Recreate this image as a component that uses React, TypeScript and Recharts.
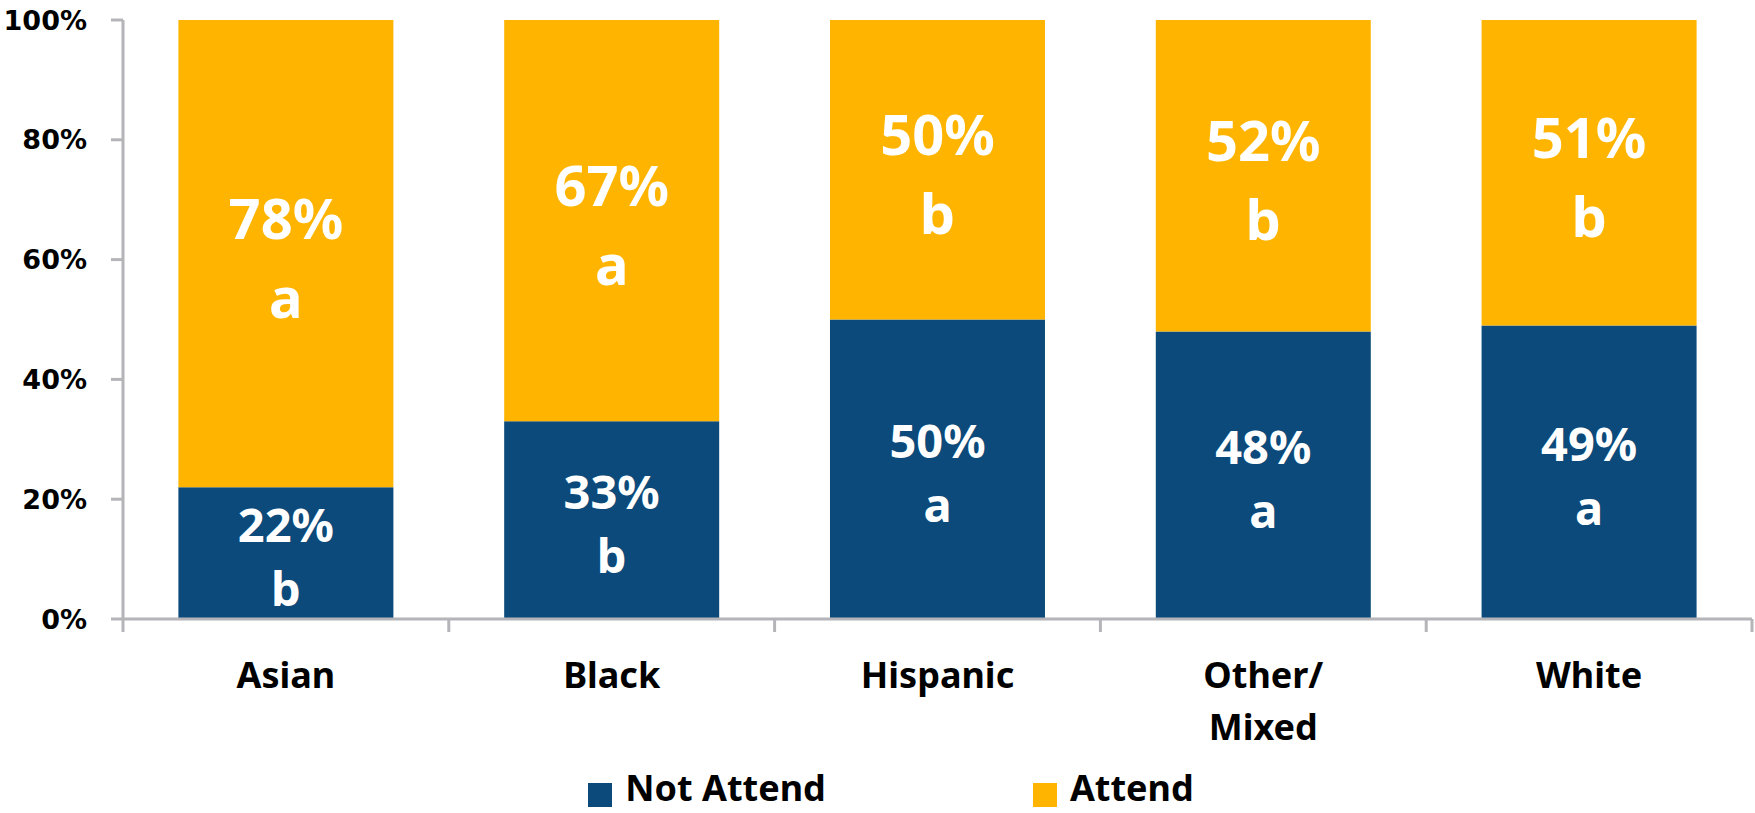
import { BarChart, Bar, XAxis, YAxis, Legend, LabelList } from "recharts";

const categories = ["Asian", "Black", "Hispanic", "Other/Mixed", "White"];
const notAttend = [22, 33, 50, 48, 49];
const attend = [78, 67, 50, 52, 51];
const notAttendSig = ["b", "b", "a", "a", "a"];
const attendSig = ["a", "a", "b", "b", "b"];
const yTicks = [0, 20, 40, 60, 80, 100];

const NAVY = "#0B4A7A";
const GOLD = "#FFB400";
const AXIS = "#B4B4B9";
const LABEL_FONT = "'Noto Sans', sans-serif";

const WIDTH = 1755;
const HEIGHT = 813;
const MARGIN = { top: 20, right: 3, bottom: 0, left: 0 };
const Y_WIDTH = 123;

const data = categories.map((name, i) => ({
  name,
  notAttend: notAttend[i],
  attend: attend[i],
  notAttendSig: notAttendSig[i],
  attendSig: attendSig[i],
}));

function CategoryTick(props: any) {
  const { x, y, payload, index } = props;
  const band = (WIDTH - Y_WIDTH - MARGIN.right) / categories.length;
  const half = payload?.offset || band / 2;
  const lines = String(payload.value).split(/(?<=\/)/);
  return (
    <g>
      <line x1={x - half} y1={y} x2={x - half} y2={y + 13} stroke={AXIS} strokeWidth={3} />
      {index === categories.length - 1 && (
        <line x1={x + half} y1={y} x2={x + half} y2={y + 13} stroke={AXIS} strokeWidth={3} />
      )}
      <text
        x={x}
        y={y + 69}
        textAnchor="middle"
        fontFamily={LABEL_FONT}
        fontWeight={700}
        fontSize={36}
        fill="#000"
      >
        {lines.map((l, i) => (
          <tspan key={i} x={x} dy={i === 0 ? 0 : 52}>
            {l}
          </tspan>
        ))}
      </text>
    </g>
  );
}

function makeSegmentLabel(sigs: string[], size: number, up: number, down: number) {
  return (props: any) => {
    const { x, y, width, height, index, value } = props;
    const cx = x + width / 2;
    const cy = y + height / 2;
    return (
      <text
        textAnchor="middle"
        fontFamily={LABEL_FONT}
        fontWeight={700}
        fontSize={size}
        fill="#fff"
      >
        <tspan x={cx} y={cy - up}>{`${value}%`}</tspan>
        <tspan x={cx} y={cy + down}>{sigs[index]}</tspan>
      </text>
    );
  };
}

function LegendContent() {
  const items = [
    { label: "Not Attend", color: NAVY },
    { label: "Attend", color: GOLD },
  ];
  return (
    <div
      style={{
        display: "flex",
        justifyContent: "center",
        gap: 207,
        height: 40,
        paddingLeft: 30,
        fontFamily: LABEL_FONT,
        fontWeight: 700,
        fontSize: 36,
        lineHeight: "30px",
      }}
    >
      {items.map((it) => (
        <div key={it.label} style={{ display: "flex", alignItems: "flex-start" }}>
          <span
            style={{
              display: "inline-block",
              width: 24,
              height: 24,
              background: it.color,
              marginRight: 13,
              marginTop: 10,
            }}
          />
          <span>{it.label}</span>
        </div>
      ))}
    </div>
  );
}

export default function App() {
  return (
    <div style={{ position: "absolute", left: 0, top: 0, background: "#fff" }}>
      <BarChart
        width={WIDTH}
        height={HEIGHT}
        data={data}
        margin={MARGIN}
        barCategoryGap="17%"
      >
        <XAxis
          dataKey="name"
          axisLine={{ stroke: AXIS, strokeWidth: 3 }}
          tickLine={false}
          tickSize={0}
          tickMargin={0}
          height={154}
          interval={0}
          tick={<CategoryTick />}
        />
        <YAxis
          width={Y_WIDTH}
          domain={[0, 100]}
          ticks={yTicks}
          tickFormatter={(v: number) => `${v}%`}
          axisLine={{ stroke: AXIS, strokeWidth: 3 }}
          tickLine={{ stroke: AXIS, strokeWidth: 3 }}
          tickSize={12}
          tickMargin={24}
          tick={{
            fill: "#000",
            fontFamily: "'DejaVu Sans', sans-serif",
            fontWeight: 700,
            fontSize: 27,
          }}
        />
        <Legend
          verticalAlign="bottom"
          content={<LegendContent />}
          wrapperStyle={{ height: 40 }}
        />
        <Bar dataKey="notAttend" stackId="s" fill={NAVY} isAnimationActive={false}>
          <LabelList dataKey="notAttend" content={makeSegmentLabel(notAttendSig, 47, 11, 53)} />
        </Bar>
        <Bar dataKey="attend" stackId="s" fill={GOLD} isAnimationActive={false}>
          <LabelList dataKey="attend" content={makeSegmentLabel(attendSig, 56, 15, 64)} />
        </Bar>
      </BarChart>
    </div>
  );
}
